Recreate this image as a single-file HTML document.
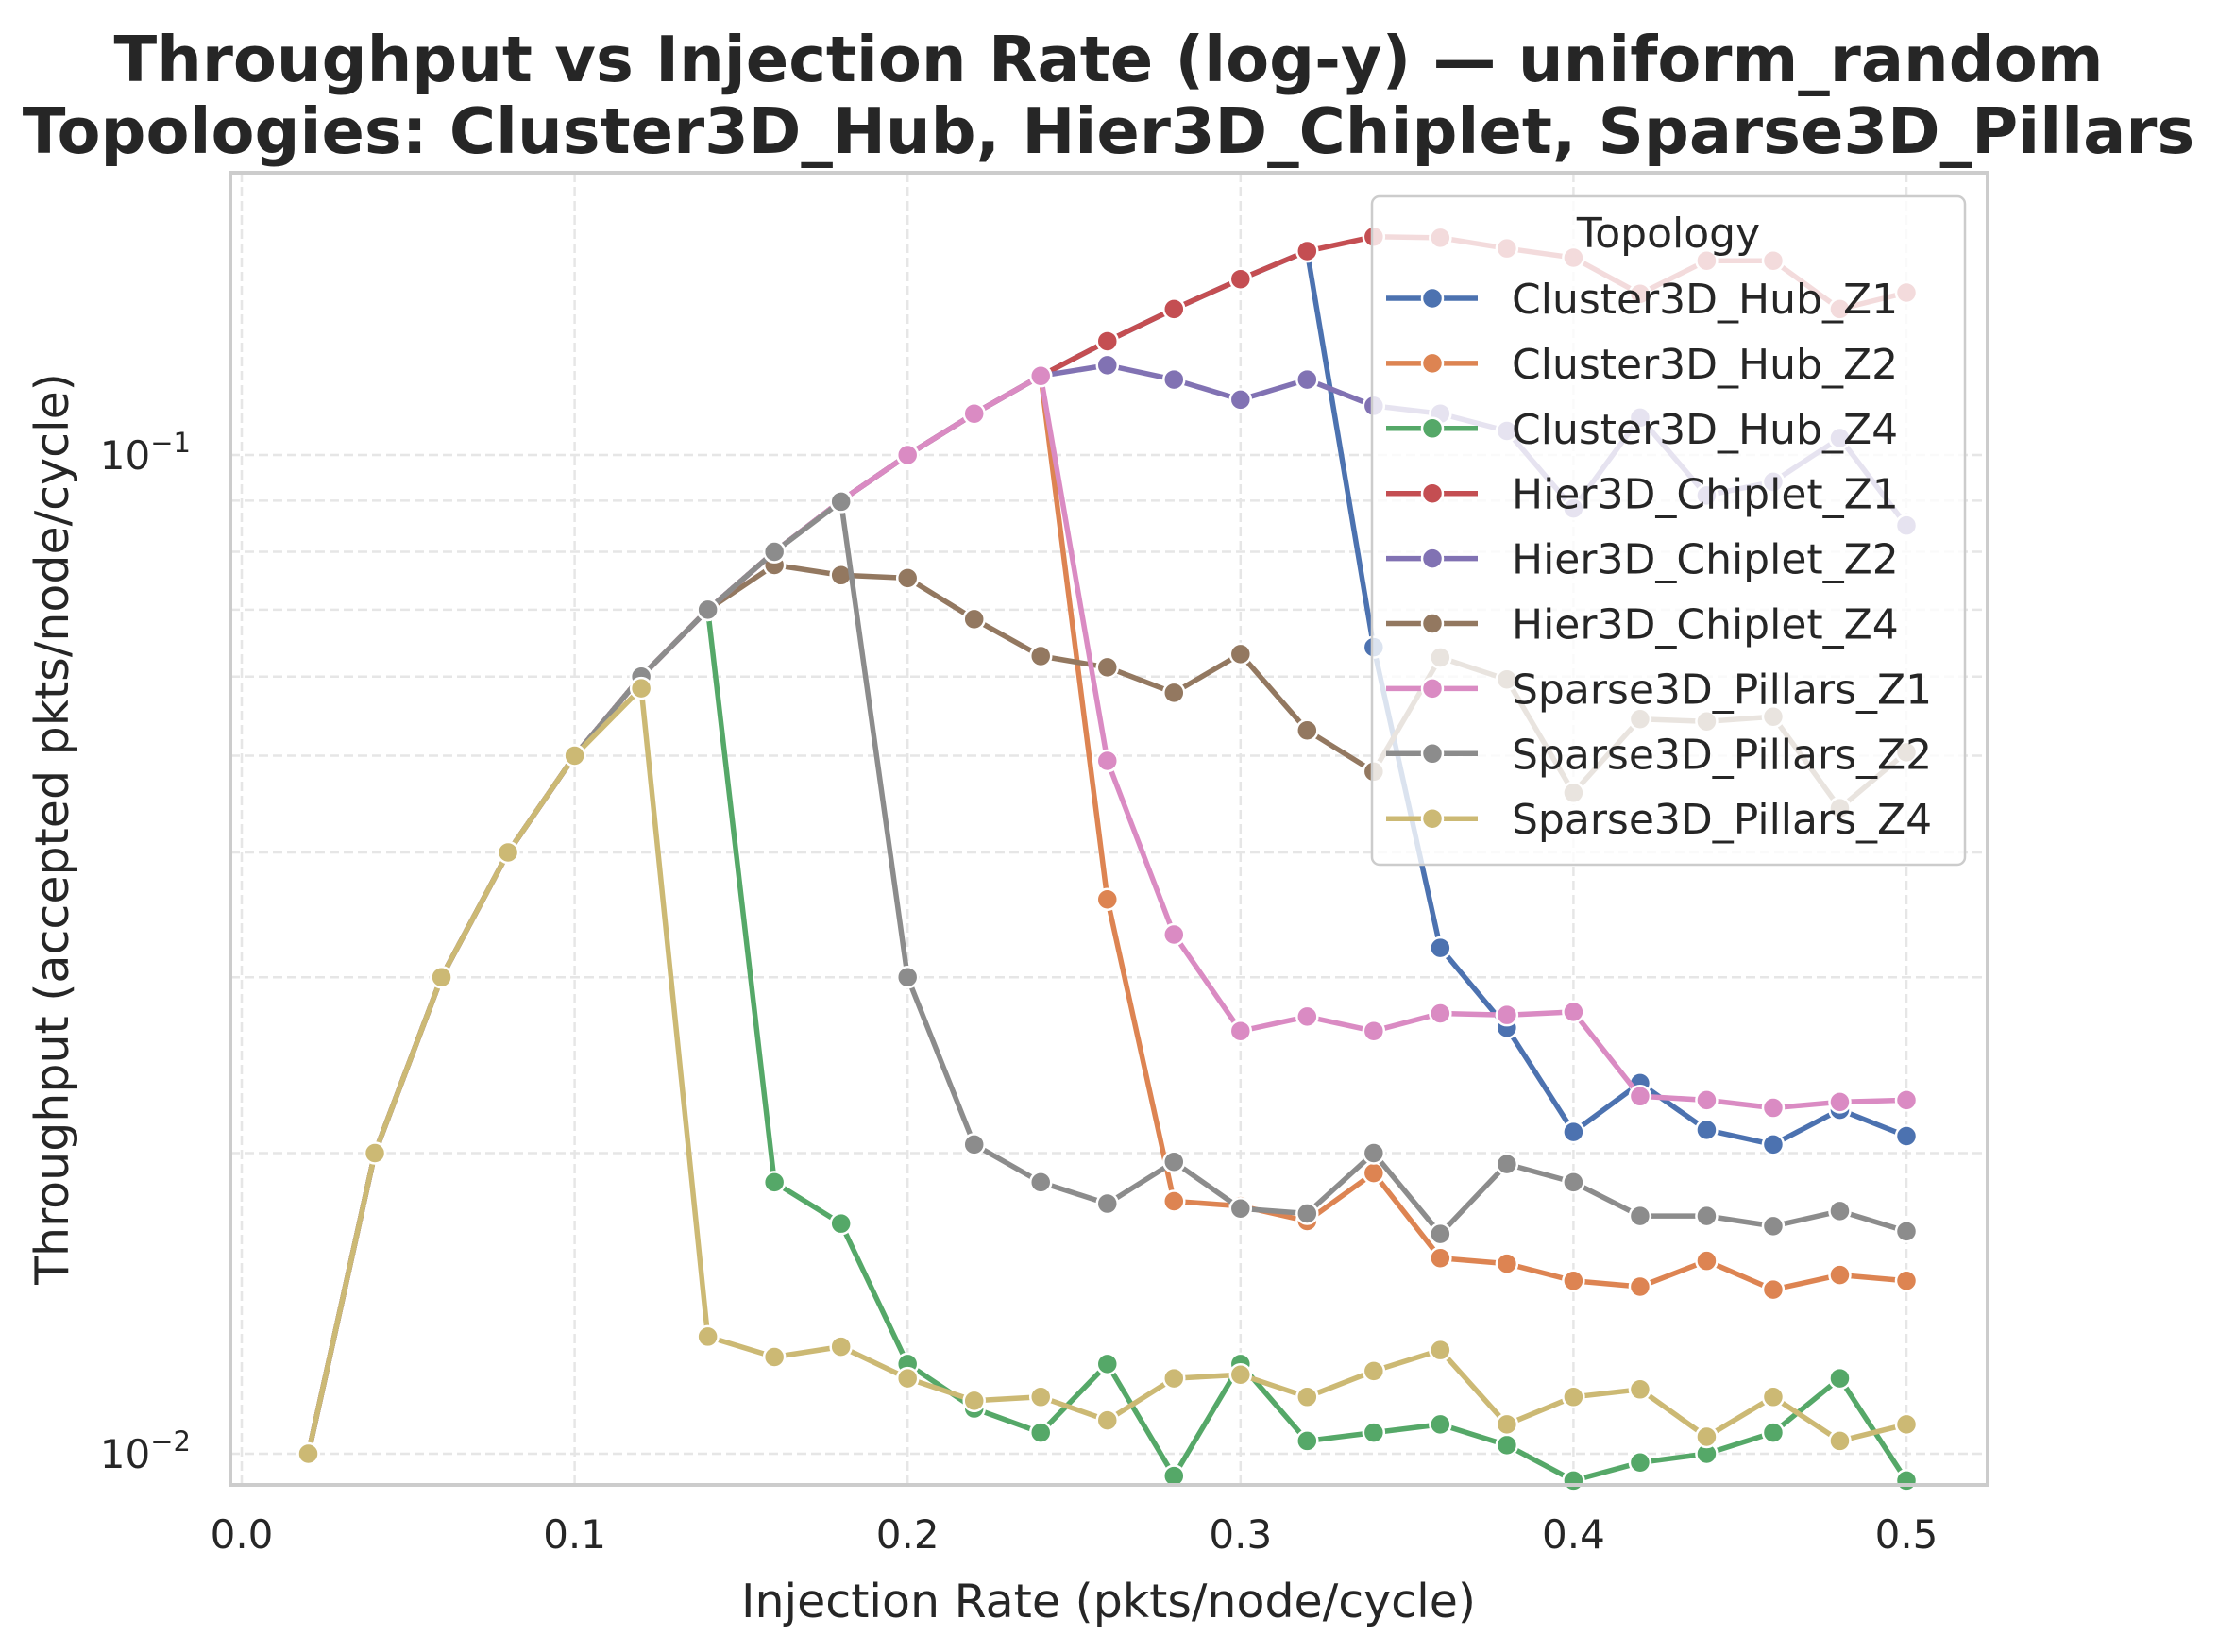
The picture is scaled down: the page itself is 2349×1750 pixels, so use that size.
<!DOCTYPE html>
<html><head><meta charset="utf-8"><style>
html,body{margin:0;padding:0;background:#fff;}
svg{display:block;font-family:"DejaVu Sans","Liberation Sans",sans-serif;}
</style></head><body>
<svg id="chart" width="2349" height="1750" viewBox="0 0 2349 1750" xmlns="http://www.w3.org/2000/svg">
<rect width="2349" height="1750" fill="#fff"/>
<text x="1174" y="86" text-anchor="middle" font-size="67" font-weight="bold" fill="#262626">Throughput vs Injection Rate (log-y) — uniform_random</text>
<text x="1174" y="162" text-anchor="middle" font-size="67" font-weight="bold" fill="#262626">Topologies: Cluster3D_Hub, Hier3D_Chiplet, Sparse3D_Pillars</text>
<g id="grid"></g>
<g id="series"></g>
<rect x="244" y="183" width="1861" height="1390" fill="none" stroke="#cccccc" stroke-width="4"/>
<g id="ticks"></g>
<text x="1174" y="1713" text-anchor="middle" font-size="49" fill="#262626">Injection Rate (pkts/node/cycle)</text>
<text transform="translate(72,878) rotate(-90)" text-anchor="middle" font-size="49" fill="#262626">Throughput (accepted pkts/node/cycle)</text>
<g id="legend"></g>
</svg>
<script>
const xValues = [0.02,0.04,0.06,0.08,0.10,0.12,0.14,0.16,0.18,0.20,0.22,0.24,0.26,0.28,0.30,0.32,0.34,0.36,0.38,0.40,0.42,0.44,0.46,0.48,0.50];
const seriesNames = ["Cluster3D_Hub_Z1","Cluster3D_Hub_Z2","Cluster3D_Hub_Z4","Hier3D_Chiplet_Z1","Hier3D_Chiplet_Z2","Hier3D_Chiplet_Z4","Sparse3D_Pillars_Z1","Sparse3D_Pillars_Z2","Sparse3D_Pillars_Z4"];
const cluster3dHubZ1 = [0.01,0.02,0.03,0.04,0.05,0.06,0.07,0.08,0.09,0.10,0.11,0.12,0.13,0.14,0.15,0.16,0.0642,0.0321,0.0267,0.0210,0.0235,0.0211,0.0204,0.0221,0.0208];
const cluster3dHubZ2 = [0.01,0.02,0.03,0.04,0.05,0.06,0.07,0.08,0.09,0.10,0.11,0.12,0.0359,0.0179,0.0177,0.0171,0.0191,0.0157,0.0155,0.0149,0.0147,0.0156,0.0146,0.0151,0.0149];
const cluster3dHubZ4 = [0.01,0.02,0.03,0.04,0.05,0.06,0.07,0.0187,0.0170,0.0123,0.0111,0.0105,0.0123,0.0095,0.0123,0.0103,0.0105,0.0107,0.0102,0.0094,0.0098,0.0100,0.0105,0.0119,0.0094];
const hier3dChipletZ1 = [0.01,0.02,0.03,0.04,0.05,0.06,0.07,0.08,0.09,0.10,0.11,0.12,0.13,0.14,0.15,0.16,0.1654,0.165,0.161,0.1576,0.145,0.1565,0.1565,0.140,0.1454];
const hier3dChipletZ2 = [0.01,0.02,0.03,0.04,0.05,0.06,0.07,0.08,0.09,0.10,0.11,0.12,0.123,0.119,0.1136,0.119,0.112,0.110,0.1057,0.0884,0.109,0.0911,0.094,0.104,0.085];
const hier3dChipletZ4 = [0.01,0.02,0.03,0.04,0.05,0.06,0.07,0.0776,0.0758,0.0753,0.0685,0.0629,0.0613,0.0578,0.0632,0.0530,0.0482,0.0627,0.0596,0.0459,0.0544,0.0541,0.0547,0.0443,0.0504];
const sparse3dPillarsZ1 = [0.01,0.02,0.03,0.04,0.05,0.06,0.07,0.08,0.09,0.10,0.11,0.12,0.0494,0.0331,0.0265,0.0274,0.0265,0.0276,0.0275,0.0277,0.0228,0.0226,0.0222,0.0225,0.0226];
const sparse3dPillarsZ2 = [0.01,0.02,0.03,0.04,0.05,0.06,0.07,0.08,0.0898,0.0300,0.0204,0.0187,0.0178,0.0196,0.0176,0.0174,0.0200,0.0166,0.0195,0.0187,0.0173,0.0173,0.0169,0.0175,0.0167];
const sparse3dPillarsZ4 = [0.01,0.02,0.03,0.04,0.05,0.0584,0.0131,0.0125,0.0128,0.0119,0.0113,0.0114,0.0108,0.0119,0.0120,0.0114,0.0121,0.0127,0.0107,0.0114,0.0116,0.0104,0.0114,0.0103,0.0107];
const xTicks = [0.0,0.1,0.2,0.3,0.4,0.5];
const xTickLabels = ["0.0","0.1","0.2","0.3","0.4","0.5"];
const yMajorTicks = [0.1,0.01];
const yMinorTicks = [0.02,0.03,0.04,0.05,0.06,0.07,0.08,0.09];

const allSeries = [cluster3dHubZ1,cluster3dHubZ2,cluster3dHubZ4,hier3dChipletZ1,hier3dChipletZ2,hier3dChipletZ4,sparse3dPillarsZ1,sparse3dPillarsZ2,sparse3dPillarsZ4];
const colors = ["#4c72b0","#dd8452","#55a868","#c44e52","#8172b3","#937860","#da8bc3","#8c8c8c","#ccb974"];
const NS = "http://www.w3.org/2000/svg";
const PL = 244, PR = 2105, PT = 183, PB = 1573;
function xScale(v){ return 256 + v * 3526; }
function yScale(v){ return 482 - (Math.log10(v) + 1) * 1058; }
function mk(tag, attrs, parent){ const e = document.createElementNS(NS, tag); for (const k in attrs) e.setAttribute(k, attrs[k]); parent.appendChild(e); return e; }

const grid = document.getElementById('grid');
xTicks.forEach(t => {
  const l = mk('line', {x1:xScale(t), x2:xScale(t), y1:PT, y2:PB, stroke:'#e6e6e6', 'stroke-width':2.5, 'stroke-dasharray':'10,5'}, grid);
  
  
});
yMajorTicks.concat(yMinorTicks).forEach(t => {
  const l = mk('line', {x1:PL, x2:PR, y1:yScale(t), y2:yScale(t), stroke:'#e6e6e6', 'stroke-width':2.5, 'stroke-dasharray':'10,5'}, grid);
  
  
});

const ticks = document.getElementById('ticks');
xTicks.forEach((t, i) => {
  const tx = mk('text', {x:xScale(t), y:1640, 'text-anchor':'middle', 'font-size':42, fill:'#262626'}, ticks);
  tx.textContent = xTickLabels[i];
  
  
});
yMajorTicks.forEach(t => {
  const tx = mk('text', {x:202, y:yScale(t)+15, 'text-anchor':'end', 'font-size':42, fill:'#262626'}, ticks);
  tx.innerHTML = '10<tspan dy="-18" font-size="29">−' + Math.round(-Math.log10(t)) + '</tspan>';
  
  
});

const sg = document.getElementById('series');
allSeries.forEach((vals, si) => {
  const g = mk('g', {}, sg);
  
  
  const pts = vals.map((v, i) => xScale(xValues[i]).toFixed(1) + ',' + yScale(v).toFixed(1)).join(' ');
  const pl = mk('polyline', {points:pts, fill:'none', stroke:colors[si], 'stroke-width':5.5, 'stroke-linejoin':'round'}, g);
  
  
  vals.forEach((v, i) => {
    const c = mk('circle', {cx:xScale(xValues[i]), cy:yScale(v), r:11, fill:colors[si], stroke:'#fff', 'stroke-width':2.5}, g);
    
    
  });
});

const lg = document.getElementById('legend');
const box = mk('rect', {x:1453, y:208, width:628, height:708, rx:8, fill:'#fff', 'fill-opacity':0.8, stroke:'#cccccc', 'stroke-width':2.5}, lg);


const lt = mk('text', {x:1767, y:262, 'text-anchor':'middle', 'font-size':44, fill:'#262626'}, lg);
lt.textContent = 'Topology';


seriesNames.forEach((n, i) => {
  const yy = 316 + i * 68.9;
  const eg = mk('g', {}, lg);
  
  
  mk('line', {x1:1468, x2:1565, y1:yy, y2:yy, stroke:colors[i], 'stroke-width':5.5}, eg);
  mk('circle', {cx:1517, cy:yy, r:11, fill:colors[i], stroke:'#fff', 'stroke-width':2.5}, eg);
  const t = mk('text', {x:1601, y:yy+16, 'font-size':44, fill:'#262626'}, eg);
  t.textContent = n;
});
</script>
</body></html>
